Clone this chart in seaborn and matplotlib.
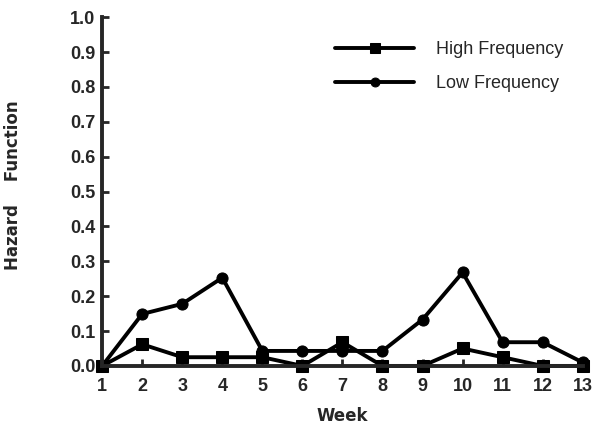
import matplotlib
matplotlib.use("Agg")
import matplotlib.pyplot as plt
import seaborn as sns

weeks = [1, 2, 3, 4, 5, 6, 7, 8, 9, 10, 11, 12, 13]
high_freq = [0.0, 0.062, 0.025, 0.025, 0.025, 0.0, 0.068, 0.0, 0.0, 0.05, 0.025, 0.0, 0.0]
low_freq = [0.0, 0.149, 0.178, 0.253, 0.043, 0.043, 0.043, 0.043, 0.133, 0.268, 0.068, 0.068, 0.01]
yticks = [0.0, 0.1, 0.2, 0.3, 0.4, 0.5, 0.6, 0.7, 0.8, 0.9, 1.0]

sns.set_style("ticks")
plt.rcParams['font.family'] = ['Liberation Sans', 'DejaVu Sans']
plt.rcParams['font.weight'] = 'bold'

fig = plt.figure(figsize=(5.94, 4.30), dpi=100)
ax = fig.add_axes([0.172, 0.149, 0.809, 0.811])

sns.lineplot(x=weeks, y=high_freq, ax=ax, color="black", linewidth=2.8,
             marker="s", markersize=9, markeredgecolor="black", label="High Frequency")
sns.lineplot(x=weeks, y=low_freq, ax=ax, color="black", linewidth=2.8,
             marker="o", markersize=8, markeredgecolor="black", label="Low Frequency")

ax.set_xlim(1, 13)
ax.set_ylim(0, 1.0)
ax.set_xticks(weeks)
ax.set_xticklabels([str(w) for w in weeks])
ax.set_yticks(yticks)
ax.set_yticklabels(["%.1f" % v for v in yticks])
ax.tick_params(axis="both", direction="in", width=2, length=5, labelsize=13)
ax.tick_params(axis="x", pad=9)
ax.tick_params(axis="y", pad=5)
for s in ["top", "right"]:
    ax.spines[s].set_visible(False)
for s in ["left", "bottom"]:
    ax.spines[s].set_linewidth(2.8)
    ax.spines[s].set_clip_on(False)
for ln in ax.get_lines():
    ln.set_clip_on(False)

ax.set_xlabel("Week", fontsize=12, fontweight="bold", family="DejaVu Sans", labelpad=8)
ax.set_ylabel("Hazard    Function", fontsize=12, fontweight="bold", family="DejaVu Sans")
ax.yaxis.set_label_coords(-0.166, 0.519)

leg = ax.legend(loc="upper left", bbox_to_anchor=(335 / 594, 1 - 41 / 430),
                bbox_transform=fig.transFigure, frameon=False, borderpad=0,
                borderaxespad=0, fontsize=13, handlelength=4.4, markerscale=0.8,
                labelspacing=0.95, handletextpad=1.2)
for t in leg.get_texts():
    t.set_fontweight("normal")

fig.savefig("out.png", dpi=100)
